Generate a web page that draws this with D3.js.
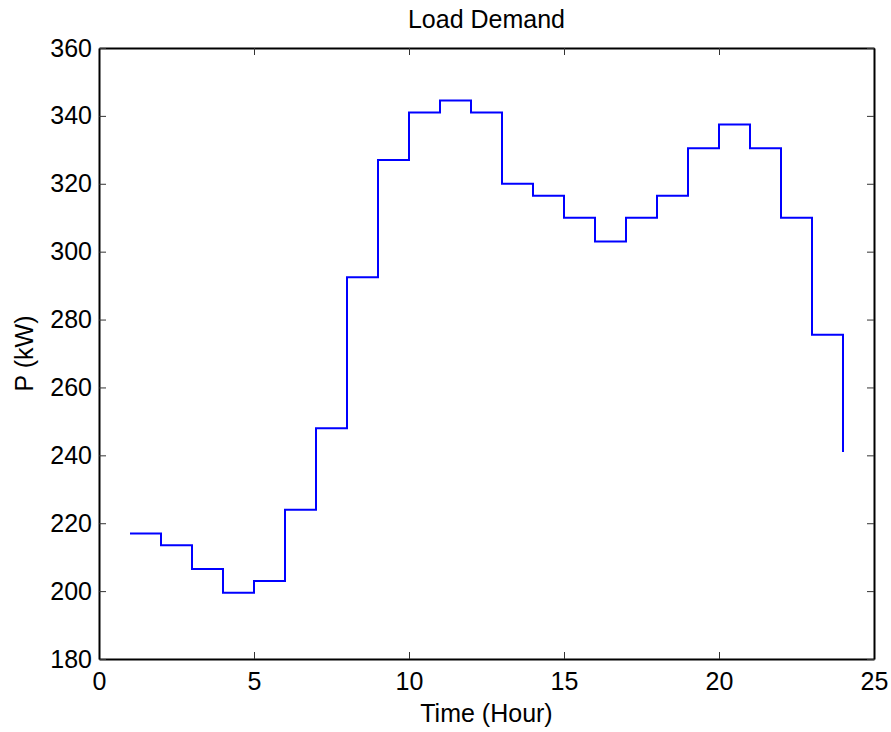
<!DOCTYPE html>
<html>
<head>
<meta charset="utf-8">
<script src="https://cdn.jsdelivr.net/npm/d3@7"></script>
<style>
  body { margin: 0; background: #fff; }
  text { font-family: "Liberation Sans", Arial, sans-serif; fill: #000; }
</style>
</head>
<body>
<svg id="chart" width="891" height="732"></svg>
<script>
// Hourly load values (kW), hours 1..24
const hours = d3.range(1, 25);
const load = [217, 213.5, 206.5, 199.5, 203, 224, 248, 292.5, 327, 341, 344.5, 341,
              320, 316.5, 310, 303, 310, 316.5, 330.5, 337.5, 330.5, 310, 275.5, 241];
const xTicks = [0, 5, 10, 15, 20, 25];
const yTicks = [180, 200, 220, 240, 260, 280, 300, 320, 340, 360];

const svg = d3.select('#chart');
const margin = { left: 99, right: 17, top: 48, bottom: 73 };
const W = 891, H = 732;
const fontSize = 25;

const x = d3.scaleLinear().domain([0, 25]).range([margin.left, W - margin.right]);
const y = d3.scaleLinear().domain([180, 360]).range([H - margin.bottom, margin.top]);

const tickLen = 7;

// axes: bottom + left with labels, top + right without
svg.append('g')
  .attr('transform', `translate(0,${y(180)})`)
  .call(d3.axisBottom(x).tickValues(xTicks).tickSizeInner(-tickLen).tickSizeOuter(0).tickPadding(13))
  .call(g => g.selectAll('text').attr('font-size', fontSize));
svg.append('g')
  .attr('transform', `translate(0,${y(360)})`)
  .call(d3.axisTop(x).tickValues(xTicks).tickSizeInner(-tickLen).tickSizeOuter(0).tickFormat(''));
svg.append('g')
  .attr('transform', `translate(${x(0)},0)`)
  .call(d3.axisLeft(y).tickValues(yTicks).tickSizeInner(-tickLen).tickSizeOuter(0).tickPadding(7))
  .call(g => g.selectAll('text').attr('font-size', fontSize));
svg.append('g')
  .attr('transform', `translate(${x(25)},0)`)
  .call(d3.axisRight(y).tickValues(yTicks).tickSizeInner(-tickLen).tickSizeOuter(0).tickFormat(''));

svg.selectAll('g').attr('font-family', null);
svg.selectAll('.domain').attr('stroke', '#000').attr('stroke-width', 2);
svg.selectAll('.tick line').attr('stroke', '#333').attr('stroke-width', 1);

// stairs line
const line = d3.line()
  .x(d => x(d[0]))
  .y(d => y(d[1]))
  .curve(d3.curveStepAfter);

svg.append('path')
  .datum(hours.map((h, i) => [h, load[i]]))
  .attr('d', line)
  .attr('fill', 'none')
  .attr('stroke', '#0000ff')
  .attr('stroke-width', 2);

// labels
svg.append('text')
  .attr('x', x(12.5)).attr('y', 28)
  .attr('text-anchor', 'middle').attr('font-size', fontSize)
  .text('Load Demand');
svg.append('text')
  .attr('x', x(12.5)).attr('y', 722)
  .attr('text-anchor', 'middle').attr('font-size', fontSize)
  .text('Time (Hour)');
svg.append('text')
  .attr('transform', `translate(33,${y(270)}) rotate(-90)`)
  .attr('text-anchor', 'middle').attr('font-size', fontSize)
  .text('P (kW)');
</script>
</body>
</html>
